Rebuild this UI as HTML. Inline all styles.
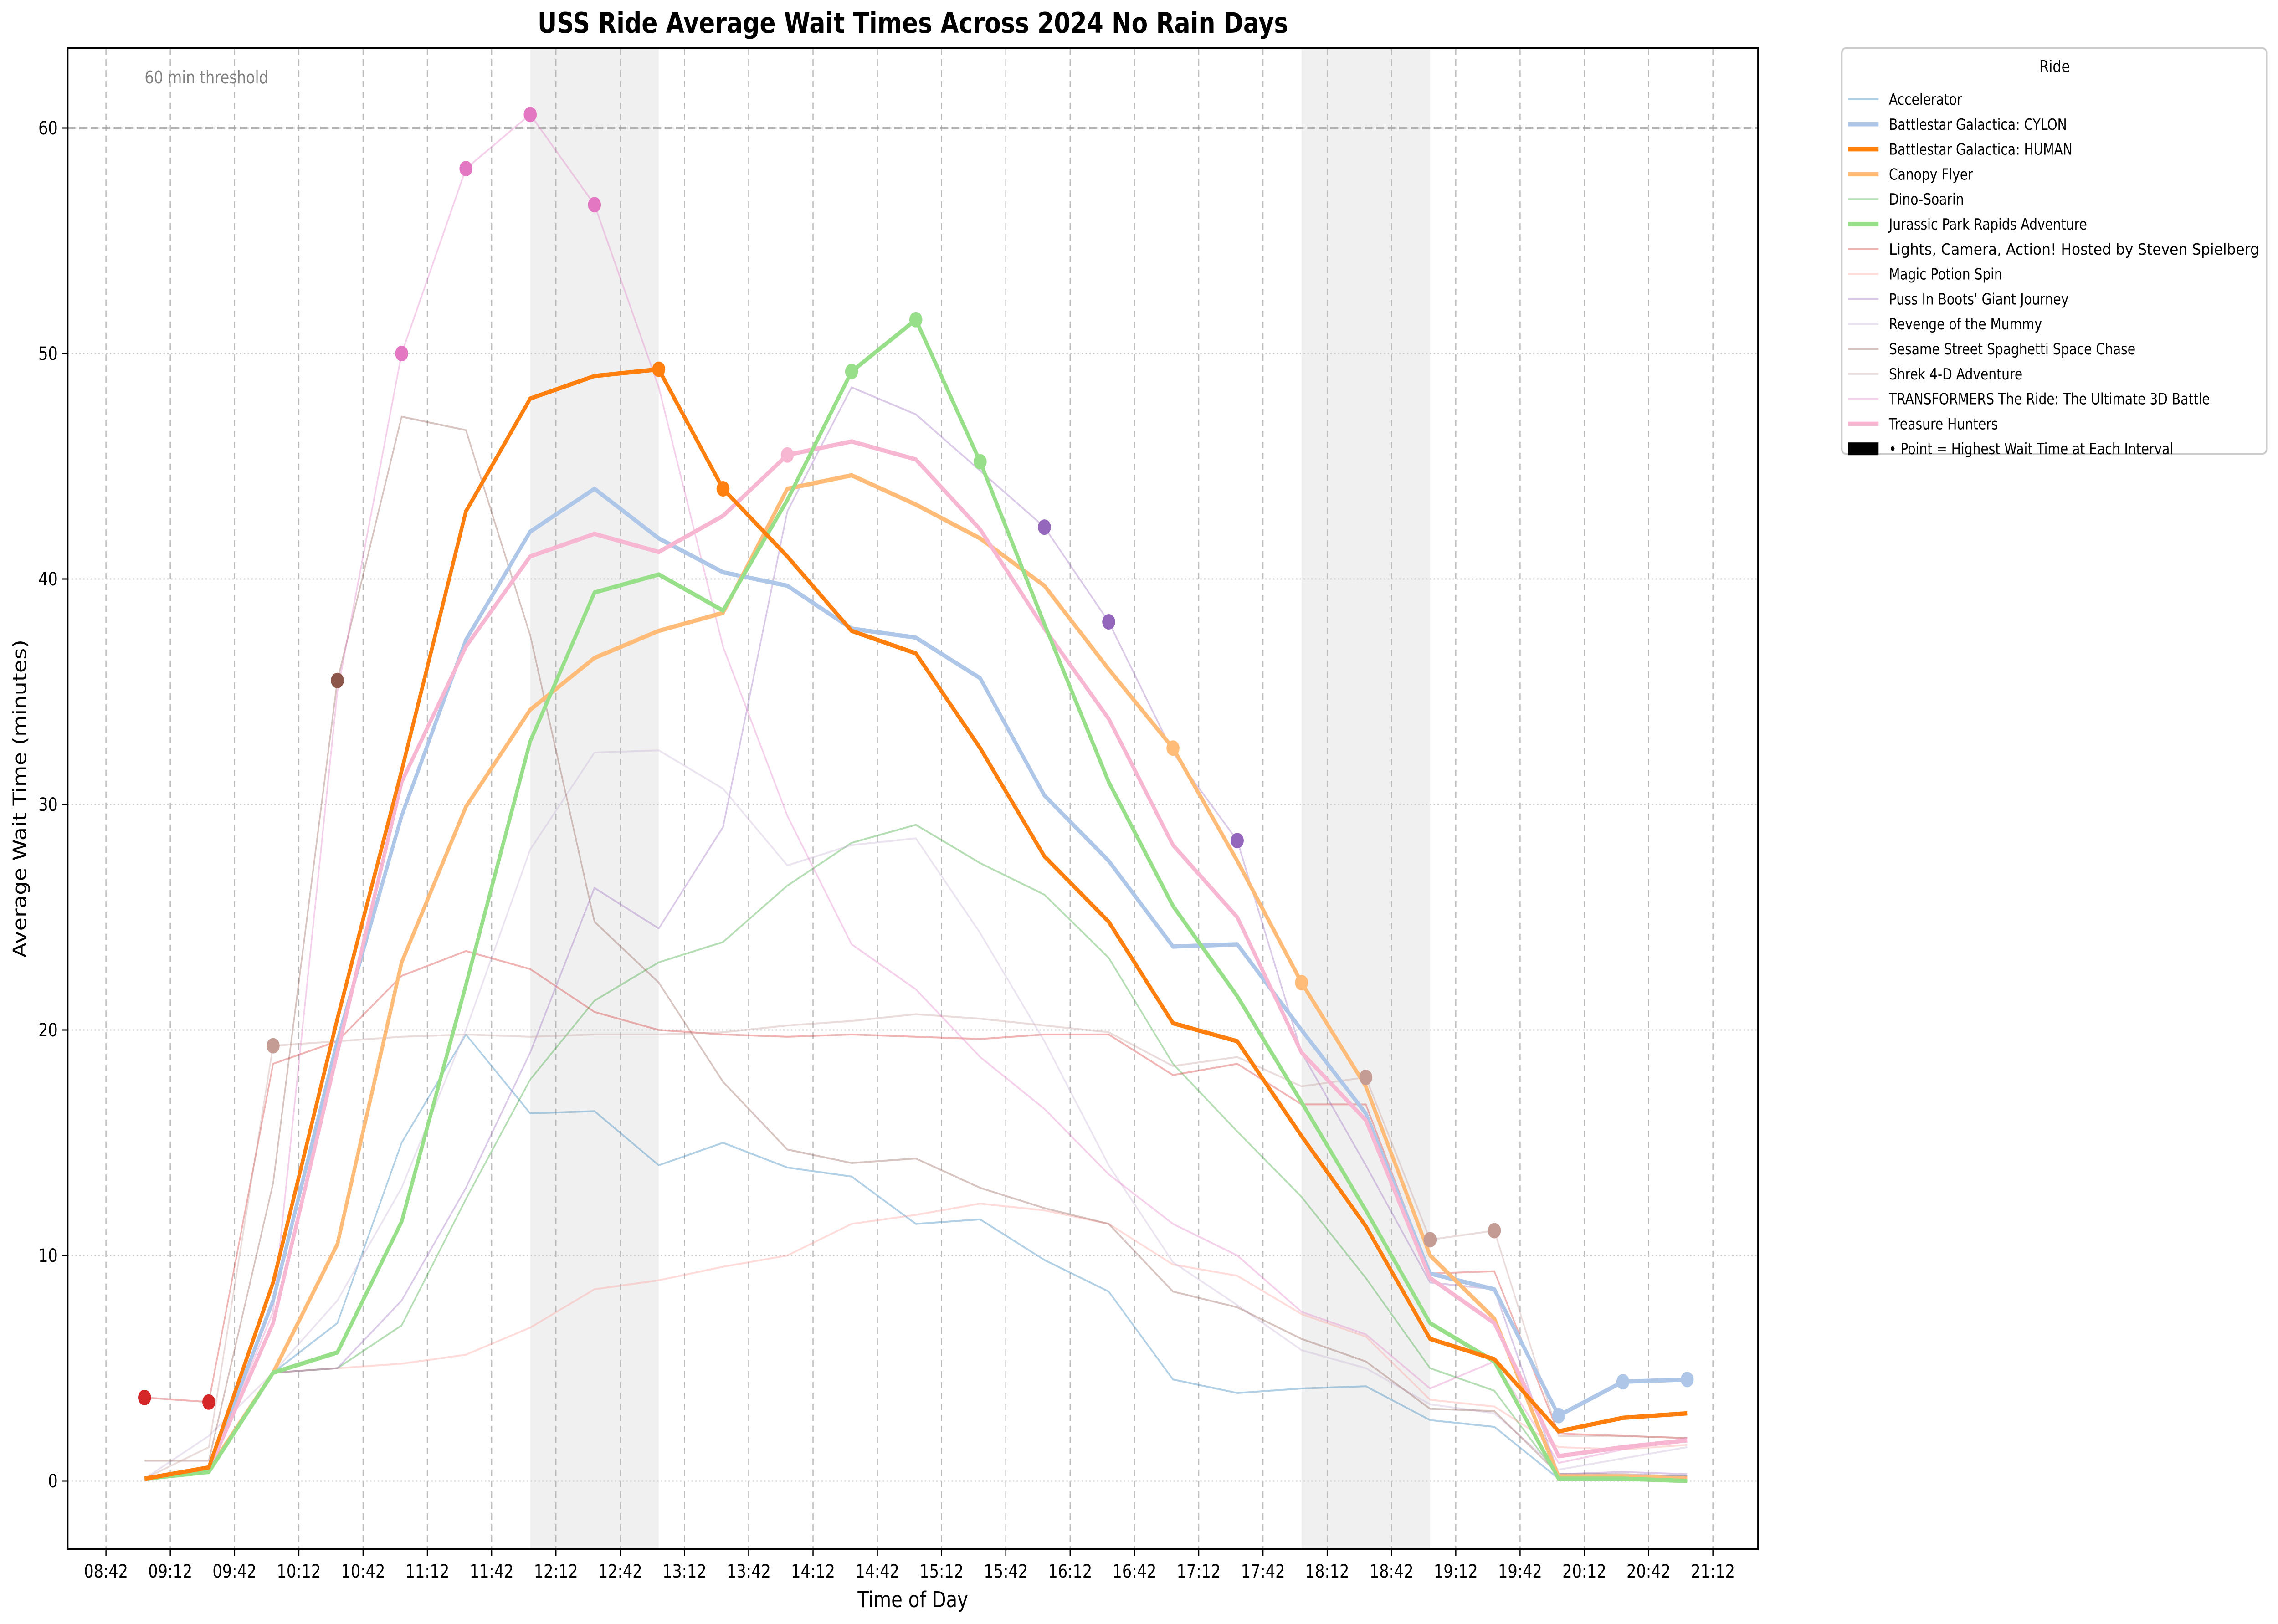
<!DOCTYPE html>
<html><head><meta charset="utf-8"><style>
html,body{margin:0;padding:0;background:#fff;overflow:hidden;width:100%;height:100%}
svg{display:block;font-family:"DejaVu Sans","Liberation Sans",sans-serif;width:100vw;height:100vh}
</style></head><body>
<svg id="chart" viewBox="0 0 5954 3565" preserveAspectRatio="none" xmlns="http://www.w3.org/2000/svg">
<rect width="5954" height="3565" fill="#fff"/>
<g id="bg"></g>
<g id="grid"></g>
<g id="lines"></g>
<g id="dots"></g>
<g id="axes"></g>
<text x="2386" y="72" text-anchor="middle" font-size="62" font-weight="bold">USS Ride Average Wait Times Across 2024 No Rain Days</text>
<text x="2386" y="3528" text-anchor="middle" font-size="48">Time of Day</text>
<text transform="translate(68,1753) rotate(-90)" text-anchor="middle" font-size="48">Average Wait Time (minutes)</text>
<g id="legend"></g>
</svg>
<script>
const rides = ["Accelerator","Battlestar Galactica: CYLON","Battlestar Galactica: HUMAN","Canopy Flyer","Dino-Soarin","Jurassic Park Rapids Adventure","Lights, Camera, Action! Hosted by Steven Spielberg","Magic Potion Spin","Puss In Boots' Giant Journey","Revenge of the Mummy","Sesame Street Spaghetti Space Chase","Shrek 4-D Adventure","TRANSFORMERS The Ride: The Ultimate 3D Battle","Treasure Hunters"];
const colors = ["#1f77b4","#aec7e8","#ff7f0e","#ffbb78","#2ca02c","#98df8a","#d62728","#ff9896","#9467bd","#c5b0d5","#8c564b","#c49c94","#e377c2","#f7b6d2"];
const thick = [false,true,true,true,false,true,false,false,false,false,false,false,false,true];
const timeMinutes = [540,570,600,630,660,690,720,750,780,810,840,870,900,930,960,990,1020,1050,1080,1110,1140,1170,1200,1230,1260];
const sAccelerator = [0.1,0.5,4.8,7,15,19.8,16.3,16.4,14,15,13.9,13.5,11.4,11.6,9.8,8.4,4.5,3.9,4.1,4.2,2.7,2.4,0.1,0.2,0.2];
const sCylon = [0.1,0.5,8,19.5,29.5,37.3,42.1,44,41.8,40.3,39.7,37.8,37.4,35.6,30.4,27.5,23.7,23.8,20,16.3,9.2,8.5,2.9,4.4,4.5];
const sHuman = [0.1,0.6,8.8,20.5,31.5,43,48,49,49.3,44,41,37.7,36.7,32.5,27.7,24.8,20.3,19.5,15.3,11.3,6.3,5.4,2.2,2.8,3.0];
const sCanopy = [0.1,0.5,4.8,10.5,23,29.9,34.2,36.5,37.7,38.5,44,44.6,43.3,41.8,39.7,36,32.5,27.5,22.1,17.5,10,7.2,0.2,0.2,0.1];
const sDino = [0.1,0.5,4.8,5,6.9,12.5,17.8,21.3,23,23.9,26.4,28.3,29.1,27.4,26,23.2,18.5,15.5,12.6,9,5,4,0.2,0.2,0.1];
const sJurassic = [0.1,0.4,4.8,5.7,11.5,22,32.8,39.4,40.2,38.6,43.5,49.2,51.5,45.2,38,31,25.5,21.5,16.8,12,7,5.3,0.1,0.1,0.0];
const sLights = [3.7,3.5,18.5,19.5,22.4,23.5,22.7,20.8,20,19.8,19.7,19.8,19.7,19.6,19.8,19.8,18,18.5,16.7,16.7,9.2,9.3,2.1,2.0,1.9];
const sMagic = [0.1,0.5,4.8,5,5.2,5.6,6.8,8.5,8.9,9.5,10,11.4,11.8,12.3,12,11.4,9.6,9.1,7.4,6.4,3.6,3.3,1.5,1.4,1.6];
const sPuss = [0.1,0.5,4.8,5,8,13,19,26.3,24.5,29,43,48.5,47.3,44.8,42.3,38.1,32.3,28.4,19,14,8.8,8.5,0.3,0.4,0.3];
const sRevenge = [0.1,2,4.8,8,13,20,28,32.3,32.4,30.7,27.3,28.2,28.5,24.3,19.5,14,9.7,7.8,5.8,5.0,3.4,3.0,0.5,1.0,1.5];
const sSesame = [0.9,0.9,13.2,35.5,47.2,46.6,37.5,24.8,22.1,17.7,14.7,14.1,14.3,13,12.1,11.4,8.4,7.7,6.3,5.3,3.2,3.1,0.3,0.3,0.2];
const sShrek = [0.1,1.5,19.3,19.5,19.7,19.8,19.7,19.8,19.8,19.9,20.2,20.4,20.7,20.5,20.2,19.9,18.4,18.8,17.5,17.9,10.7,11.1,2.0,2.0,1.9];
const sTransformers = [0.1,0.5,7.5,35,50,58.2,60.6,56.6,48.5,37,29.5,23.8,21.8,18.8,16.5,13.6,11.4,10,7.5,6.5,4.1,5.3,0.8,1.4,1.9];
const sTreasure = [0.1,0.5,7,19,31,37,41,42,41.2,42.8,45.5,46.1,45.3,42.2,37.8,33.8,28.2,25,19,16,9,7,1.1,1.5,1.8];
const series = [sAccelerator,sCylon,sHuman,sCanopy,sDino,sJurassic,sLights,sMagic,sPuss,sRevenge,sSesame,sShrek,sTransformers,sTreasure];
const xTickMinutes = [522,552,582,612,642,672,702,732,762,792,822,852,882,912,942,972,1002,1032,1062,1092,1122,1152,1182,1212,1242,1272];
const yTicks = [0,10,20,30,40,50,60];
const shadeRanges = [[720,780],[1080,1140]];
const threshold = 60;

const L=177,R=4595,T=106,B=3401;
const X = m => 277 + (m-522)*5.6;
const Y = v => 3251 - v*49.5;
const NS="http://www.w3.org/2000/svg";
function mk(tag, parent, attrs){const e=document.createElementNS(NS,tag);for(const k in attrs)e.setAttribute(k,attrs[k]);parent.appendChild(e);return e;}
const fmt = m => String(Math.floor(m/60)).padStart(2,'0')+':'+String(m%60).padStart(2,'0');

const bg=document.getElementById('bg');
shadeRanges.forEach(r=>{
  const e=mk('rect',bg,{x:X(r[0]),y:T,width:X(r[1])-X(r[0]),height:B-T,fill:'#000','fill-opacity':0.06});
  
  
});
const grid=document.getElementById('grid');
xTickMinutes.forEach(m=>{
  const e=mk('line',grid,{x1:X(m),x2:X(m),y1:T,y2:B,stroke:'#bbb','stroke-width':3,'stroke-dasharray':'14 10'});
  
  
});
yTicks.forEach(v=>{
  const e=mk('line',grid,{x1:L,x2:R,y1:Y(v),y2:Y(v),stroke:'#ccc','stroke-width':3,'stroke-dasharray':'4 6'});
  
  
});
const th=mk('line',grid,{x1:L,x2:R,y1:Y(threshold),y2:Y(threshold),stroke:'#999','stroke-opacity':0.7,'stroke-width':6,'stroke-dasharray':'20 10'});


const tt=mk('text',grid,{x:378,y:183,'font-size':38,fill:'#808080'});
tt.textContent='60 min threshold';



const lines=document.getElementById('lines');
const order=[0,4,6,7,8,9,10,11,12,1,3,13,5,2];
order.forEach(i=>{
  const pts=series[i].map((v,j)=>X(timeMinutes[j])+','+Y(v)).join(' ');
  const e=mk('polyline',lines,{points:pts,fill:'none',stroke:colors[i],'stroke-width':thick[i]?9.5:4,'stroke-opacity':thick[i]?1:0.35,'stroke-linejoin':'round'});
  
  
});
const dots=document.getElementById('dots');
timeMinutes.forEach((m,j)=>{
  let bi=0;series.forEach((s,i)=>{if(s[j]>series[bi][j])bi=i;});
  const e=mk('circle',dots,{cx:X(m),cy:Y(series[bi][j]),r:17,fill:colors[bi]});
  
  
});
const ax=document.getElementById('axes');
const fr=mk('rect',ax,{x:L,y:T,width:R-L,height:B-T,fill:'none',stroke:'#000','stroke-width':4});


xTickMinutes.forEach(m=>{
  const t=mk('line',ax,{x1:X(m),x2:X(m),y1:B,y2:B+15,stroke:'#000','stroke-width':3});
  
  
  const e=mk('text',ax,{x:X(m),y:B+62,'text-anchor':'middle','font-size':40});
  e.textContent=fmt(m);
  
  
});
yTicks.forEach(v=>{
  const t=mk('line',ax,{x1:L-15,x2:L,y1:Y(v),y2:Y(v),stroke:'#000','stroke-width':3});
  
  
  const e=mk('text',ax,{x:L-26,y:Y(v)+14,'text-anchor':'end','font-size':40});
  e.textContent=String(v);
  
  
});
const lg=document.getElementById('legend');
const lb=mk('rect',lg,{x:4814,y:106,width:1110,height:890,rx:10,fill:'#fff',stroke:'#ccc','stroke-width':4});


const lt=mk('text',lg,{x:5370,y:158,'text-anchor':'middle','font-size':36});
lt.textContent='Ride';


rides.forEach((n,i)=>{
  const y=218+i*54.8;
  const l=mk('line',lg,{x1:4830,x2:4910,y1:y,y2:y,stroke:colors[i],'stroke-width':thick[i]?9.5:4,'stroke-opacity':thick[i]?1:0.35});
  
  
  const e=mk('text',lg,{x:4937,y:y+12,'font-size':33.5});
  e.textContent=n;
  if(n.length>48){e.setAttribute('textLength',968);e.setAttribute('lengthAdjust','spacingAndGlyphs');}
  
  
});
const py=218+14*54.8;
const pr=mk('rect',lg,{x:4830,y:py-14,width:80,height:28,fill:'#000'});


const pt=mk('text',lg,{x:4937,y:py+12,'font-size':33.5});
pt.textContent='• Point = Highest Wait Time at Each Interval';


</script>
</body></html>
